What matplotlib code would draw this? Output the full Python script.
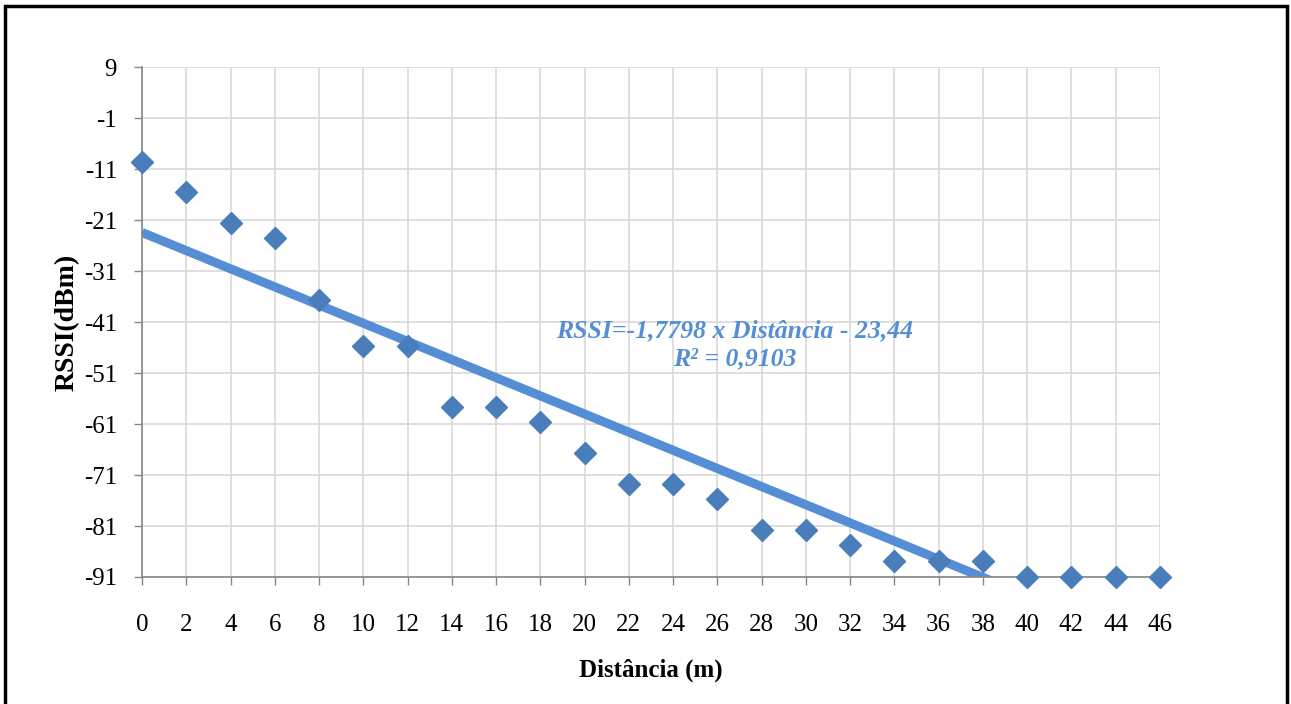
import matplotlib.pyplot as plt
from matplotlib.patches import Rectangle

# Dados
distancia = [0, 2, 4, 6, 8, 10, 12, 14, 16, 18, 20, 22, 24, 26, 28, 30, 32, 34, 36, 38, 40, 42, 44, 46]
rssi = [-9.6, -15.6, -21.6, -24.5, -36.6, -45.8, -45.8, -57.7, -57.7, -60.7, -66.7,
        -72.8, -72.8, -75.7, -81.8, -81.8, -84.7, -87.9, -87.9, -87.9, -91, -91, -91, -91]

# Linha de tendência
inclinacao = -1.7798
intercepto = -23.44
x_tend = [0, 46]

y_ticks = [9, -1, -11, -21, -31, -41, -51, -61, -71, -81, -91]

plt.rcParams['font.family'] = ['Liberation Serif', 'DejaVu Serif']
plt.rcParams['axes.unicode_minus'] = False

fig = plt.figure(figsize=(12.91, 7.04), dpi=100)
ax = fig.add_axes([0.110, 0.1804, 0.7885, 0.7244])

ax.plot(x_tend, [inclinacao * x + intercepto for x in x_tend], color='#558ED5', linewidth=6.5,
        solid_capstyle='butt', zorder=2)
ax.plot(distancia, rssi, linestyle='none', marker='D', markersize=11, color='#4A7EBB',
        clip_on=False, zorder=3)

ax.set_xlim(0, 46)
ax.set_ylim(-91, 9)
ax.set_xticks(distancia)
ax.set_yticks(y_ticks)
ax.tick_params(axis='x', direction='out', length=6, width=1, color='#868686', labelsize=18, pad=21)
ax.tick_params(axis='y', direction='out', length=6, width=1, color='#868686', labelsize=18, pad=12)

ax.grid(True, color='#D9D9D9', linewidth=1.2)
ax.set_axisbelow(True)
for s in ['top', 'right']:
    ax.spines[s].set_visible(False)
for s in ['left', 'bottom']:
    ax.spines[s].set_color('#868686')
    ax.spines[s].set_linewidth(1.2)

ax.set_xlabel('Distância (m)', fontsize=18, fontweight='bold', labelpad=16)
ax.set_ylabel('RSSI(dBm)', fontsize=20, fontweight='bold', labelpad=3)

ax.text(0.5825, 0.455, 'RSSI=-1,7798 x Distância - 23,44\nR² = 0,9103', transform=ax.transAxes,
        ha='center', va='center', fontsize=18.5, fontweight='bold', fontstyle='italic',
        color='#558ED5', linespacing=1.3)

# Moldura
fig.patches.append(Rectangle((5 / 1291, -0.05), 1282 / 1291, 0.05 + 698 / 704,
                             transform=fig.transFigure, fill=False, edgecolor='black',
                             linewidth=2.5))

fig.savefig('out.png', dpi=100)
